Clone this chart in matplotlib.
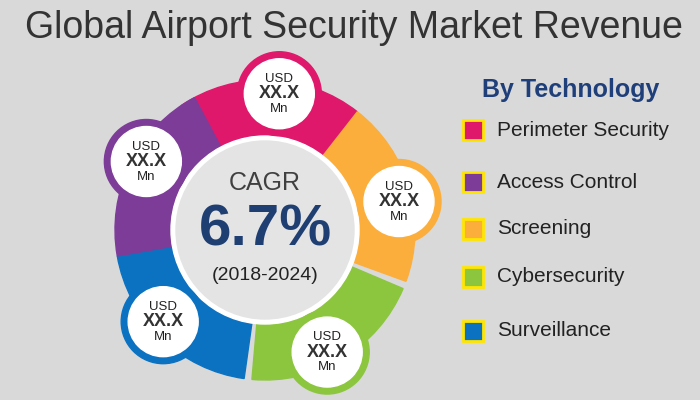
import matplotlib
matplotlib.use("Agg")
import matplotlib.pyplot as plt
from matplotlib.patches import Wedge, Circle, Rectangle
import math

plt.rcParams["font.family"] = "Liberation Sans"

categories = ["Perimeter Security", "Access Control", "Screening", "Cybersecurity", "Surveillance"]
colors = ["#e0186c", "#7d3c98", "#fbae3c", "#8cc63f", "#0b72c2"]
bubble_vals = ["XX.X", "XX.X", "XX.X", "XX.X", "XX.X"]
cagr = "6.7%"
period = "(2018-2024)"
title = "Global Airport Security Market Revenue"

fig = plt.figure(figsize=(7, 4), dpi=100)
fig.patch.set_facecolor("#d9d9d9")
ax = fig.add_axes([0, 0, 1, 1])
ax.set_xlim(0, 700); ax.set_ylim(0, 400); ax.axis("off")
ax.set_aspect("equal")

def Y(py): return 400 - py

cx, cy = 265, Y(230)
ring = [(0, 84), (2, 12), (3, -63), (4, -138), (1, 150)]
for idx, ang in ring:
    ax.add_patch(Wedge((cx, cy), 150, ang - 32, ang + 40, width=60, color=colors[idx], zorder=1))
ax.add_patch(Circle((cx, cy), 94, color="#ffffff", zorder=2))
ax.add_patch(Circle((cx, cy), 89, color="#e4e4e4", zorder=3))
ax.text(cx, Y(183), "CAGR", ha="center", va="center", fontsize=18, color="#404040", zorder=4)
ax.text(cx, Y(230), cagr, ha="center", va="center", fontsize=42, fontweight="bold", color="#1f3f73", zorder=4)
ax.text(cx, Y(276), period, ha="center", va="center", fontsize=14, color="#222222", zorder=4)

for idx, ang in ring:
    bx = cx + 137 * math.cos(math.radians(ang))
    by = cy + 137 * math.sin(math.radians(ang))
    ax.add_patch(Circle((bx, by), 42, color=colors[idx], zorder=5))
    ax.add_patch(Circle((bx, by), 35, color="white", zorder=6))
    ax.text(bx, by + 15, "USD", ha="center", va="center", fontsize=9.5, color="#222", zorder=7)
    ax.text(bx, by, bubble_vals[idx], ha="center", va="center", fontsize=13, fontweight="bold", color="#333", zorder=7)
    ax.text(bx, by - 15, "Mn", ha="center", va="center", fontsize=9.5, color="#222", zorder=7)

ax.text(25, Y(28), title, ha="left", va="center", fontsize=27, color="#333333")
ax.text(571, Y(90), "By Technology", ha="center", va="center", fontsize=18, fontweight="bold", color="#1f3f7a")
leg_y = [130, 182, 229, 277, 331]
for i, py in enumerate(leg_y):
    ax.add_patch(Rectangle((463, Y(py) - 10), 20, 20, facecolor=colors[i], edgecolor="#ffe600", lw=2))
    ax.text(497, Y(py), categories[i], ha="left", va="center", fontsize=15, color="#222")

fig.savefig("out.png", dpi=100, facecolor=fig.get_facecolor())
